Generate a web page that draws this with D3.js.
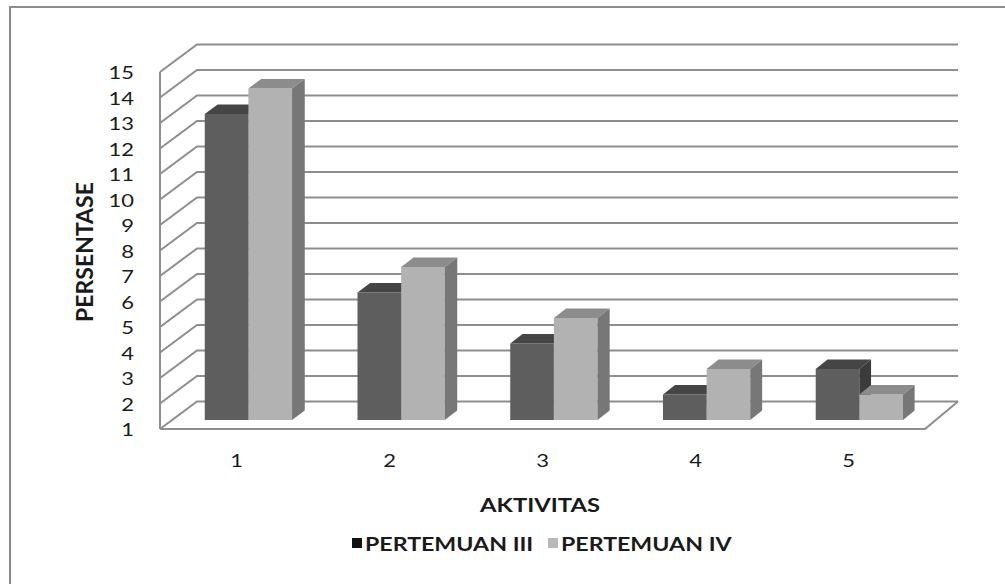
<!DOCTYPE html>
<html>
<head>
<meta charset="utf-8">
<script src="https://cdn.jsdelivr.net/npm/d3@7/dist/d3.min.js"></script>
<style>
  html, body { margin: 0; padding: 0; background: #fff; }
  svg { display: block; }
  text { font-family: Lato, "Open Sans", sans-serif; fill: #1a1a1a; }
</style>
</head>
<body>
<svg id="chart" width="1005" height="584"></svg>
<script>
// Aktivitas categories and the two meetings' percentages
const categories = ["1", "2", "3", "4", "5"];
const seriesNames = ["PERTEMUAN III", "PERTEMUAN IV"];
const pertemuanIII = [13, 6, 4, 2, 3];
const pertemuanIV  = [14, 7, 5, 3, 2];
const yTicks = [1, 2, 3, 4, 5, 6, 7, 8, 9, 10, 11, 12, 13, 14, 15];

const seriesValues = [pertemuanIII, pertemuanIV];

const faceColors = [
  { front: "#5e5e5e", top: "#454545", side: "#3b3b3b" },
  { front: "#b2b2b2", top: "#8c8c8c", side: "#777777" }
];
const legendSwatch = ["#111111", "#b8b8b8"];
const gridColor = "#8e8e8e";
// text in this chart is drawn slightly widened
const textStretch = 1.22;

const svg = d3.select("#chart");

// Outer frame (extends past the right and bottom edges)
svg.append("rect")
  .attr("x", 10).attr("y", 7)
  .attr("width", 1020).attr("height", 600)
  .attr("fill", "none").attr("stroke", "#8c8c8c").attr("stroke-width", 2);

// 3D box: front plane and back wall horizontal extents, depth drop
const front = { x0: 160, x1: 925 };
const back  = { x0: 197, x1: 958 };
const depthDrop = 27.5;

const y = d3.scaleLinear().domain([1, 15]).range([429, 72]);
const u = d3.scaleBand().domain(categories).range([0, 1]);
const inner = d3.scaleBand().domain(d3.range(seriesNames.length))
  .range([0, u.bandwidth()]).paddingInner(0).paddingOuter(0.75);

// project (horizontal fraction, value, depth fraction) to the screen
function proj(uu, v, d) {
  const xf = front.x0 + uu * (front.x1 - front.x0);
  const xb = back.x0 + uu * (back.x1 - back.x0);
  return [xf + d * (xb - xf), y(v) - d * depthDrop];
}
const line = d3.line();

function place(x, yy) {
  return `translate(${x},${yy}) scale(${textStretch},1)`;
}

const grid = svg.append("g")
  .attr("fill", "none").attr("stroke", gridColor).attr("stroke-width", 2);

// Back wall gridlines and left wall diagonals
yTicks.forEach(t => {
  grid.append("path").attr("d", line([proj(0, t, 0), proj(0, t, 1), proj(1, t, 1)]));
});
// Left wall front edge
grid.append("path").attr("d", line([proj(0, 1, 0), proj(0, 15, 0)]));
// Floor front and right edges
grid.append("path").attr("d", line([proj(0, 1, 0), proj(1, 1, 0), proj(1, 1, 1)]));

// Bars: depth spans the middle of the box
const d0 = 0.325, d1 = 0.675;
const bars = svg.append("g");
categories.forEach((c, ci) => {
  seriesValues.forEach((vals, si) => {
    const v = vals[ci];
    const ua = u(c) + inner(si);
    const ub = ua + inner.bandwidth();
    const col = faceColors[si];
    const g = bars.append("g");
    // front face
    g.append("path").attr("fill", col.front)
      .attr("d", line([proj(ua, 1, d0), proj(ub, 1, d0), proj(ub, v, d0), proj(ua, v, d0)]) + "Z");
    // top face
    g.append("path").attr("fill", col.top)
      .attr("d", line([proj(ua, v, d0), proj(ub, v, d0), proj(ub, v, d1), proj(ua, v, d1)]) + "Z");
    // right side face
    g.append("path").attr("fill", col.side)
      .attr("d", line([proj(ub, 1, d0), proj(ub, 1, d1), proj(ub, v, d1), proj(ub, v, d0)]) + "Z");
  });
});

// Value axis labels
svg.append("g").selectAll("text").data(yTicks).join("text")
  .attr("transform", d => place(134, y(d)))
  .attr("text-anchor", "end").attr("dominant-baseline", "central")
  .style("font-size", "18px")
  .text(d => d);

// Category labels along the front floor edge
svg.append("g").selectAll("text").data(categories).join("text")
  .attr("transform", d => place(proj(u(d) + u.bandwidth() / 2, 1, 0)[0], 467))
  .attr("text-anchor", "middle")
  .style("font-size", "18px")
  .text(d => d);

// Axis titles
svg.append("text")
  .attr("transform", place(540, 512))
  .attr("text-anchor", "middle")
  .style("font-size", "19.5px").style("font-weight", "bold")
  .text("AKTIVITAS");

svg.append("text")
  .attr("transform", "translate(93,252) rotate(-90)")
  .attr("text-anchor", "middle")
  .style("font-size", "23px").style("font-weight", "bold")
  .text("PERSENTASE");

// Legend
const legend = svg.append("g");
const legendX = [352, 548];
seriesNames.forEach((name, i) => {
  legend.append("rect")
    .attr("x", legendX[i]).attr("y", 538)
    .attr("width", 10).attr("height", 10)
    .attr("fill", legendSwatch[i]);
  legend.append("text")
    .attr("transform", place(legendX[i] + 13, 551))
    .style("font-size", "19px").style("font-weight", "bold")
    .text(name);
});
</script>
</body>
</html>
